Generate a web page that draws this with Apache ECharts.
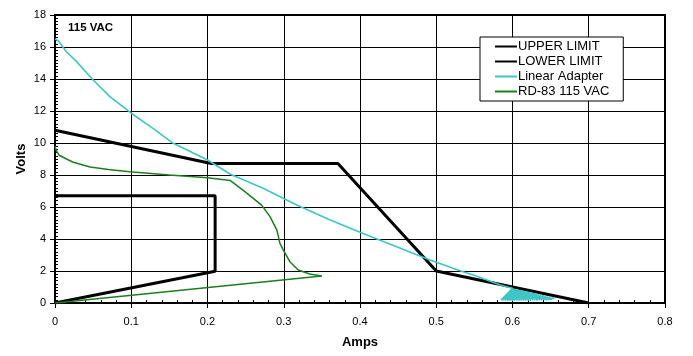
<!DOCTYPE html>
<html>
<head>
<meta charset="utf-8">
<script src="https://cdn.jsdelivr.net/npm/echarts@6/dist/echarts.min.js"></script>
<style>html,body{margin:0;padding:0;background:#fff}#c{width:693px;height:356px}</style>
</head>
<body>
<div id="c"></div>
<script>
var xTicks = [0, 0.1, 0.2, 0.3, 0.4, 0.5, 0.6, 0.7, 0.8];
var yTicks = [0, 2, 4, 6, 8, 10, 12, 14, 16, 18];

var upperX = [0, 0.205, 0.371, 0.5, 0.7];
var upperY = [10.8, 8.72, 8.72, 2.0, 0];

var lowerX = [0, 0.21, 0.21, 0];
var lowerY = [0, 1.98, 6.7, 6.7];

var linearX = [0, 0.004, 0.015, 0.028, 0.05, 0.072, 0.1, 0.129, 0.155, 0.178, 0.2, 0.23, 0.273, 0.317, 0.361, 0.404, 0.448, 0.492, 0.535, 0.549, 0.584, 0.600,
  0.585, 0.601, 0.587, 0.603, 0.590, 0.605, 0.593, 0.607, 0.596, 0.609, 0.599, 0.611, 0.602, 0.613, 0.605, 0.615, 0.608, 0.617, 0.611, 0.619, 0.614, 0.621,
  0.617, 0.623, 0.620, 0.625, 0.623, 0.627, 0.626, 0.629, 0.629, 0.631, 0.632, 0.634, 0.635, 0.637, 0.638, 0.640, 0.641, 0.643, 0.644, 0.646, 0.647, 0.649,
  0.650, 0.652, 0.653, 0.655];
var linearY = [16.5, 16.4, 15.7, 15.1, 13.94, 12.9, 11.86, 10.9, 9.98, 9.45, 8.94, 8.05, 7.17, 6.12, 5.19, 4.35, 3.52, 2.69, 1.96, 1.75, 1.12, 0.92,
  0.18, 0.9, 0.17, 0.88, 0.16, 0.86, 0.15, 0.84, 0.15, 0.82, 0.15, 0.8, 0.15, 0.78, 0.15, 0.76, 0.15, 0.74, 0.15, 0.72, 0.15, 0.7,
  0.15, 0.68, 0.15, 0.66, 0.15, 0.64, 0.16, 0.62, 0.16, 0.59, 0.16, 0.56, 0.17, 0.53, 0.17, 0.49, 0.18, 0.45, 0.18, 0.41, 0.19, 0.37,
  0.19, 0.32, 0.2, 0.26];

var rdX = [0, 0.001, 0.002, 0.005, 0.015, 0.024, 0.046, 0.07, 0.098, 0.15, 0.2, 0.23, 0.249, 0.271, 0.282, 0.291, 0.295, 0.2995, 0.308, 0.319, 0.334, 0.35, 0];
var rdY = [9.8, 9.6, 9.5, 9.25, 9.0, 8.8, 8.5, 8.35, 8.2, 8.0, 7.83, 7.65, 6.96, 6.12, 5.4, 4.56, 3.73, 3.31, 2.58, 2.06, 1.81, 1.69, 0];

function pairs(xs, ys) { return xs.map(function (x, i) { return [x, ys[i]]; }); }

var FONT = 'Liberation Sans, Arial, sans-serif';
var chart = echarts.init(document.getElementById('c'), null, { renderer: 'canvas' });

var xMin = xTicks[0], xMax = xTicks[xTicks.length - 1];
var yMin = yTicks[0], yMax = yTicks[yTicks.length - 1];

chart.setOption({
  animation: false,
  backgroundColor: '#fff',
  title: {
    text: '115 VAC', left: 63, top: 17,
    textStyle: { fontFamily: FONT, fontSize: 11.5, fontWeight: 'bold', color: '#000' }
  },
  grid: { left: 55, right: 28, top: 15, bottom: 53, show: true, borderColor: '#000', borderWidth: 2, backgroundColor: 'transparent', outerBoundsMode: 'none', containLabel: false },
  legend: {
    orient: 'vertical', left: 480, top: 37,
    padding: [3, 14, 3, 14], itemGap: 2, itemWidth: 22, itemHeight: 14,
    backgroundColor: '#fff', borderColor: '#000', borderWidth: 1,
    itemStyle: { opacity: 0, borderWidth: 0 },
    textStyle: { fontFamily: FONT, fontSize: 13, color: '#000', padding: [0, 0, 0, -4] },
    data: ['UPPER LIMIT', 'LOWER LIMIT', 'Linear Adapter', 'RD-83 115 VAC']
  },
  xAxis: [{
    type: 'value', min: xMin, max: xMax, interval: 0.1, position: 'bottom',
    axisLine: { show: true, lineStyle: { color: '#000', width: 2 } },
    name: 'Amps', nameLocation: 'middle', nameGap: 33, nameMoveOverlap: false,
    nameTextStyle: { fontFamily: FONT, fontSize: 13, fontWeight: 'bold', color: '#000' },
    axisTick: { show: true, inside: true, length: 3, lineStyle: { color: '#000', width: 1 } },
    axisLabel: { fontFamily: FONT, fontSize: 11, color: '#000', margin: 13 },
    splitLine: { show: true, lineStyle: { color: '#000', width: 1 } },
    minorTick: { show: true, splitNumber: 5, length: 3, lineStyle: { color: '#000', width: 1 } }
  }, {
    type: 'value', min: xMin, max: xMax, interval: 0.1, position: 'bottom',
    axisLine: { show: false },
    axisTick: { show: true, inside: false, length: 5, lineStyle: { color: '#000', width: 1 } },
    axisLabel: { show: false }, splitLine: { show: false }, minorTick: { show: false }
  }],
  yAxis: [{
    type: 'value', min: yMin, max: yMax, interval: 2, position: 'left',
    axisLine: { show: true, lineStyle: { color: '#000', width: 2 } },
    name: 'Volts', nameLocation: 'middle', nameGap: 27, nameRotate: 90, nameMoveOverlap: false,
    nameTextStyle: { fontFamily: FONT, fontSize: 13, fontWeight: 'bold', color: '#000' },
    axisTick: { show: true, inside: true, length: 3, lineStyle: { color: '#000', width: 1 } },
    axisLabel: { fontFamily: FONT, fontSize: 11, color: '#000', margin: 9 },
    splitLine: { show: true, lineStyle: { color: '#000', width: 1 } },
    minorTick: { show: true, splitNumber: 10, length: 3, lineStyle: { color: '#000', width: 1 } }
  }, {
    type: 'value', min: yMin, max: yMax, interval: 2, position: 'left',
    axisLine: { show: false },
    axisTick: { show: true, inside: false, length: 5, lineStyle: { color: '#000', width: 1 } },
    axisLabel: { show: false }, splitLine: { show: false }, minorTick: { show: false }
  }],
  series: [
    { name: 'UPPER LIMIT', type: 'line', symbol: 'none', data: pairs(upperX, upperY), lineStyle: { color: '#000', width: 3 }, itemStyle: { color: '#000' }, z: 3 },
    { name: 'LOWER LIMIT', type: 'line', symbol: 'none', data: pairs(lowerX, lowerY), lineStyle: { color: '#000', width: 3 }, itemStyle: { color: '#000' }, z: 3 },
    { name: 'Linear Adapter', type: 'line', symbol: 'none', data: pairs(linearX, linearY), lineStyle: { color: '#3ec6c6', width: 1.6 }, itemStyle: { color: '#3ec6c6' }, z: 4 },
    { name: 'RD-83 115 VAC', type: 'line', symbol: 'none', data: pairs(rdX, rdY), lineStyle: { color: '#1e7d1e', width: 1.5 }, itemStyle: { color: '#1e7d1e' }, z: 4 },
    { name: 'ticks', type: 'line', xAxisIndex: 1, yAxisIndex: 1, data: [], symbol: 'none', silent: true }
  ]
});
</script>
</body>
</html>
